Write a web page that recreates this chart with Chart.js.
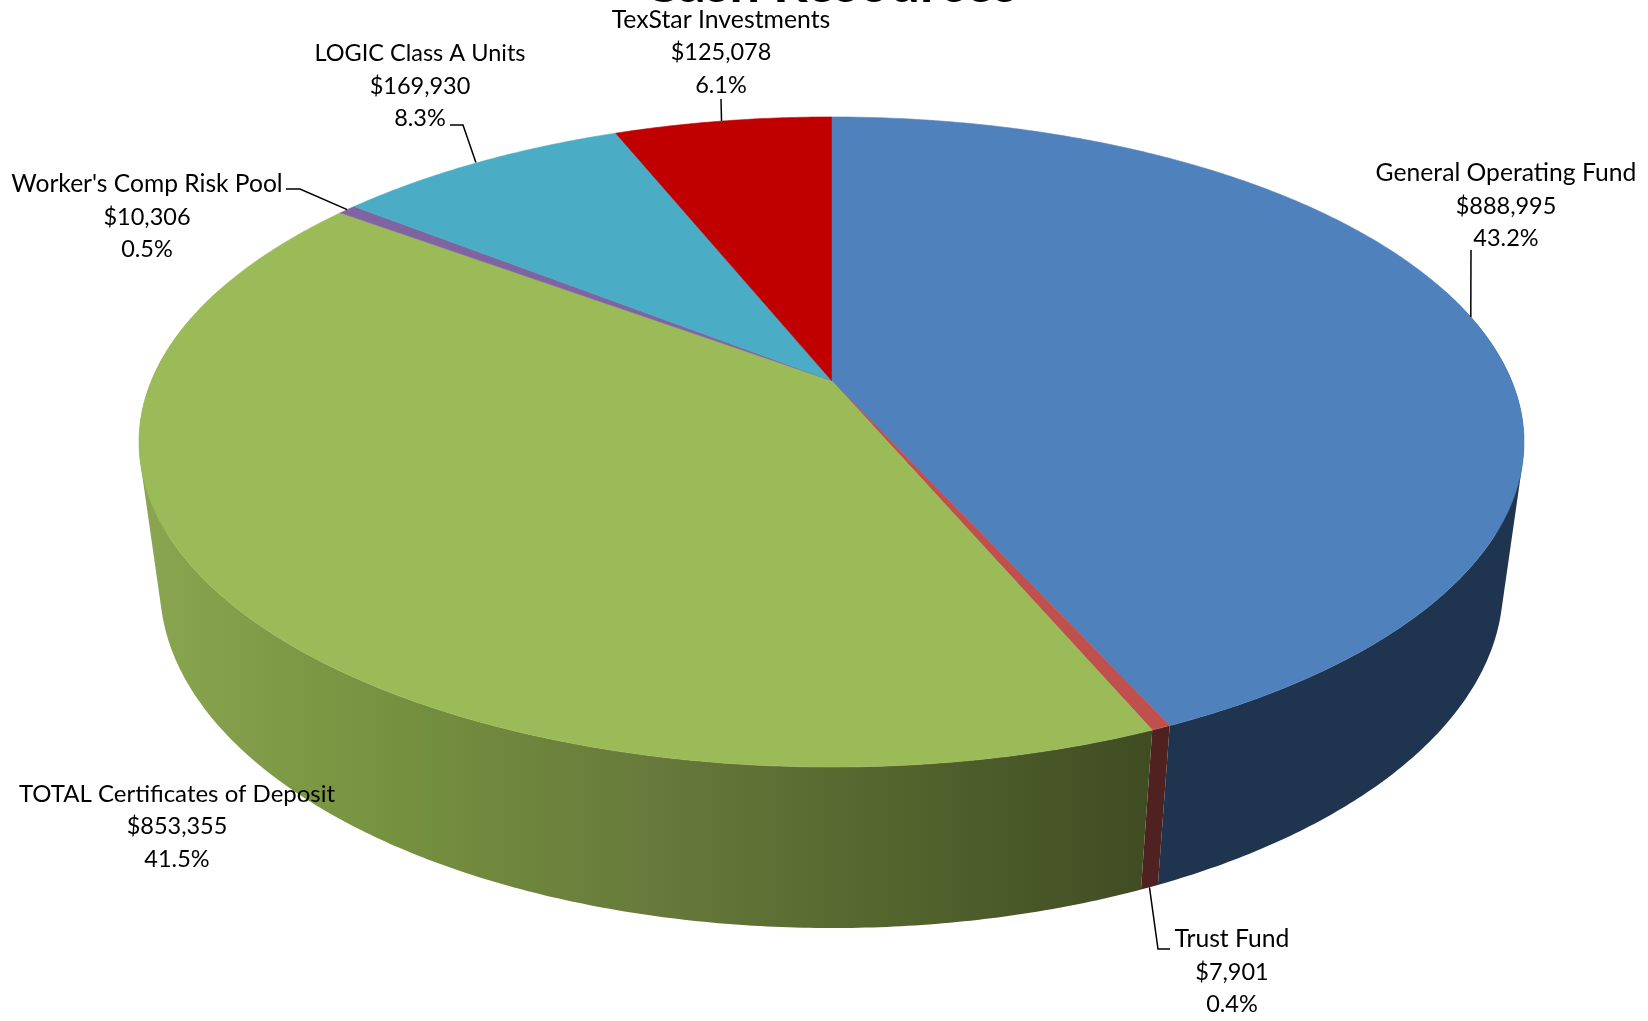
<!DOCTYPE html>
<html lang="en">
<head>
  <meta charset="UTF-8" />
  <title>Cash Resources</title>
  <script src="https://cdn.jsdelivr.net/npm/chart.js@4"></script>
  <style>
    html, body { margin: 0; padding: 0; background: #fff; }
    canvas { display: block; }
  </style>
</head>
<body>
  <canvas id="pieChart" width="1648" height="1021"></canvas>

  <script>
    const categories = ['General Operating Fund', 'Trust Fund', 'TOTAL Certificates of Deposit', "Worker's Comp Risk Pool", 'LOGIC Class A Units', 'TexStar Investments'];
    const amounts = [888995, 7901, 853355, 10306, 169930, 125078];
    const chartTitle = 'Cash Resources';

    const topColors = ['#4F81BD', '#C0504D', '#9BBB59', '#8064A2', '#4BACC6', '#C00000'];
    const wallColors = ['#1F344E', '#4F2120', null, '#3F2F52', '#1F4A57', '#600000'];

    // label centre + leader points for each slice (leader starts on the slice edge)
    const labelLayout = [
      { x: 1506, y: 173.5, size: 24.7, leader: [[1471, 250]] },
      { x: 1232, y: 939.5, size: 24.7, leader: [[1158, 949], [1170, 949]], lower: true },
      { x: 177, y: 794, size: 24, leader: [] },
      { x: 147, y: 184.5, size: 24.6, leader: [[300, 189], [286, 189]] },
      { x: 420, y: 53.5, size: 23.5, leader: [[463, 125], [450, 125]], dx: -2 },
      { x: 721, y: 20, size: 24.8, leader: [[721, 99]], dx: -1 }
    ];

    // perspective of the tilted disc: x = cx + d*u/w, y = (a*v + b + f*h)/w, w = 1 + c*v + e*h
    const view = { cx: 831.5, d: 680, a: 241.4, b: 380.5, c: -0.1892, e: 0.03, f: 158.4 };

    function project(angle, h) {
      const u = Math.cos(angle), v = Math.sin(angle);
      const w = 1 + view.c * v + view.e * h;
      return [view.cx + view.d * u / w, (view.a * v + view.b + view.f * h) / w];
    }

    // add a quad to the path, always wound the same way so the union fills without holes
    function addQuad(ctx, p) {
      let area = 0;
      for (let i = 0; i < 4; i++) {
        const q = p[(i + 1) % 4];
        area += p[i][0] * q[1] - q[0] * p[i][1];
      }
      const pts = area < 0 ? p.slice().reverse() : p;
      ctx.moveTo(pts[0][0], pts[0][1]);
      for (let i = 1; i < 4; i++) ctx.lineTo(pts[i][0], pts[i][1]);
      ctx.closePath();
    }

    const pie3d = {
      id: 'pie3d',
      beforeDatasetDraw(chart, args) {
        const ctx = chart.ctx;
        const arcs = args.meta.data;
        const step = Math.PI / 360;

        // green wall gets the shaded gradient
        const shade = ctx.createLinearGradient(150, 0, 1160, 0);
        shade.addColorStop(0, '#8AA54F');
        shade.addColorStop(0.25, '#75903F');
        shade.addColorStop(0.5, '#677A3B');
        shade.addColorStop(0.7, '#56682F');
        shade.addColorStop(1, '#3F4B22');

        ctx.save();

        // side walls first, only the front part can show
        arcs.forEach((arc, i) => {
          const n = Math.max(1, Math.ceil((arc.endAngle - arc.startAngle) / step));
          ctx.fillStyle = wallColors[i] || shade;
          ctx.beginPath();
          for (let k = 0; k < n; k++) {
            const a0 = arc.startAngle + (arc.endAngle - arc.startAngle) * k / n;
            const a1 = arc.startAngle + (arc.endAngle - arc.startAngle) * (k + 1) / n;
            if (Math.sin((a0 + a1) / 2) < -0.3) continue;
            addQuad(ctx, [project(a0, 0), project(a1, 0), project(a1, 1), project(a0, 1)]);
          }
          ctx.fill();
        });

        // top face
        ctx.lineWidth = 0.6;
        ctx.lineJoin = 'round';
        arcs.forEach((arc, i) => {
          ctx.fillStyle = topColors[i];
          ctx.strokeStyle = topColors[i];
          const n = Math.max(2, Math.ceil((arc.endAngle - arc.startAngle) / step));
          ctx.beginPath();
          ctx.moveTo(view.cx, view.b);
          for (let k = 0; k <= n; k++) {
            const p = project(arc.startAngle + (arc.endAngle - arc.startAngle) * k / n, 0);
            ctx.lineTo(p[0], p[1]);
          }
          ctx.closePath();
          ctx.fill();
          ctx.stroke();
        });
        ctx.restore();
        return false;
      },
      afterDatasetsDraw(chart) {
        const ctx = chart.ctx;
        const arcs = chart.getDatasetMeta(0).data;
        const total = amounts.reduce((s, x) => s + x, 0);

        ctx.save();
        ctx.strokeStyle = '#000';
        ctx.lineWidth = 1.5;
        arcs.forEach((arc, i) => {
          const l = labelLayout[i];
          if (!l.leader.length) return;
          const from = project((arc.startAngle + arc.endAngle) / 2, l.lower ? 1 : 0);
          ctx.beginPath();
          ctx.moveTo(from[0] + (l.dx || 0), from[1]);
          l.leader.forEach(p => ctx.lineTo(p[0], p[1]));
          ctx.stroke();
        });

        ctx.fillStyle = '#000';
        ctx.textAlign = 'center';
        ctx.textBaseline = 'middle';
        categories.forEach((name, i) => {
          const l = labelLayout[i];
          const pct = (amounts[i] / total * 100).toFixed(1) + '%';
          ctx.font = l.size + 'px Lato';
          ctx.fillText(name, l.x, l.y);
          ctx.font = '23.5px Lato';
          ctx.fillText('$' + amounts[i].toLocaleString('en-US'), l.x, l.y + 32.6);
          ctx.fillText(pct, l.x, l.y + 65.2);
        });

        // title sits mostly above the top of the page
        ctx.font = 'bold 54px Lato';
        ctx.textBaseline = 'alphabetic';
        ctx.fillText(chartTitle, 830, 1.5);
        ctx.restore();
      }
    };

    new Chart(document.getElementById('pieChart'), {
      type: 'pie',
      data: {
        labels: categories,
        datasets: [{ data: amounts, backgroundColor: topColors, borderWidth: 0 }]
      },
      options: {
        responsive: false,
        animation: false,
        plugins: {
          legend: { display: false },
          tooltip: { enabled: false }
        }
      },
      plugins: [pie3d]
    });
  </script>
</body>
</html>
